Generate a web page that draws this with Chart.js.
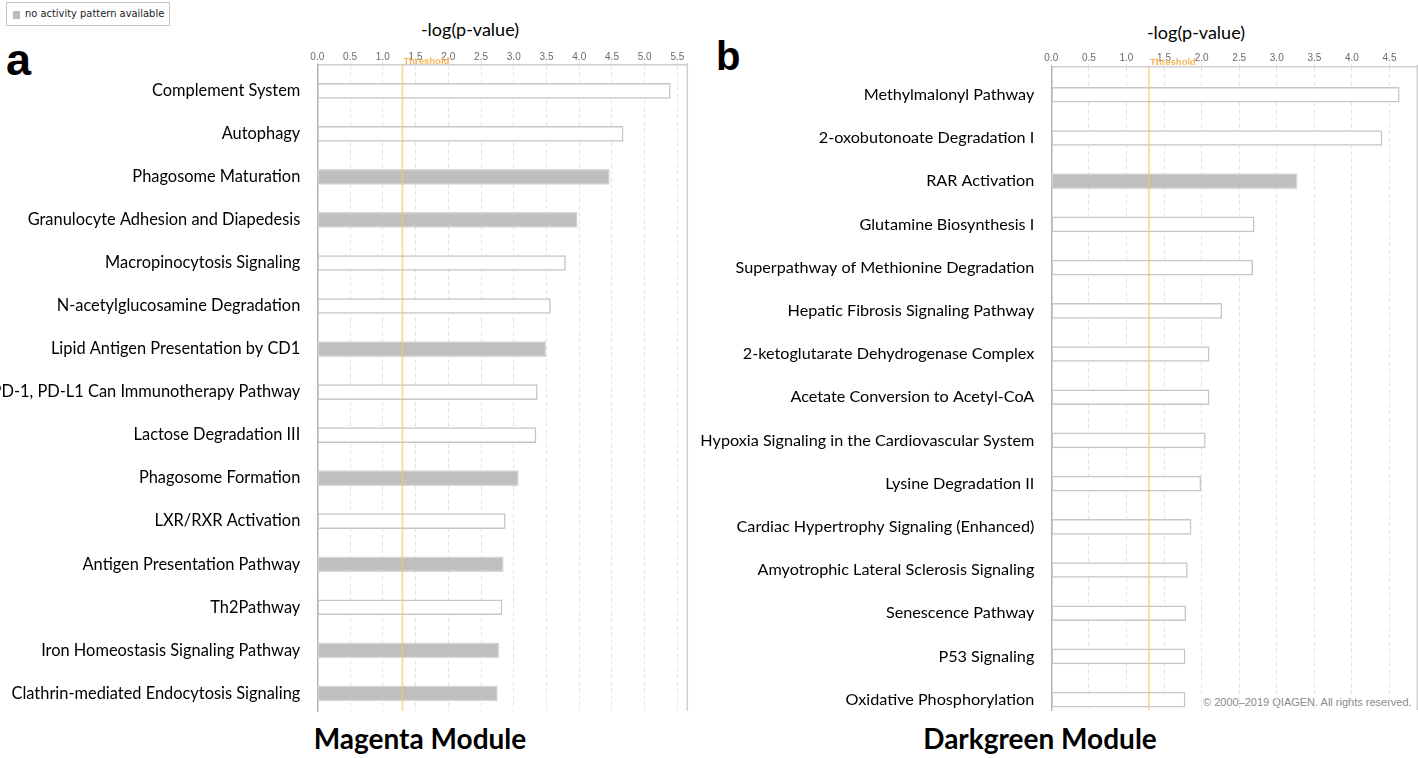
<!DOCTYPE html>
<html>
<head>
<meta charset="utf-8">
<script src="https://cdn.jsdelivr.net/npm/chart.js@4.4.1/dist/chart.umd.min.js"></script>
<style>
  html, body { margin: 0; padding: 0; background: #fff; }
  body { width: 1418px; height: 758px; position: relative; overflow: hidden; }
  canvas { position: absolute; top: 0; }
  #cA { left: 0; }
  #cB { left: 700px; }
  .txt { position: absolute; white-space: nowrap; }
  .letter { font-family: "Liberation Sans", Arial, sans-serif; font-weight: 700; color: #000; line-height: 1; }
  .axtitle { font-family: Lato, sans-serif; font-size: 18px; color: #000; line-height: 1; transform: translateX(-50%); }
  .module { font-family: Lato, sans-serif; font-weight: 700; font-size: 28px; color: #000; line-height: 1; transform: translateX(-50%); }
  #legend { position: absolute; left: 6px; top: 2px; width: 164px; height: 24px; border: 1px solid #c4c4c4; box-sizing: border-box; background: #fff; }
  #legend .sw { position: absolute; left: 6px; top: 8px; width: 7px; height: 8px; background: #bdbdbd; }
  #legend .lt { position: absolute; left: 18px; top: 4px; font-family: "DejaVu Sans Condensed", "Liberation Sans Narrow", sans-serif; font-size: 11px; color: #222; white-space: nowrap; }
  #copy { font-family: "Liberation Sans", Arial, sans-serif; font-size: 11px; color: #8a8a8a; left: 1203px; top: 696px; }
</style>
</head>
<body>
<div id="legend"><div class="sw"></div><div class="lt">no activity pattern available</div></div>
<div class="txt letter" style="left:6px; top:37px; font-size:45px;">a</div>
<div class="txt letter" style="left:716px; top:36px; font-size:40px;">b</div>
<div class="txt axtitle" style="left:470px; top:20px;">-log(p-value)</div>
<div class="txt axtitle" style="left:1196px; top:23px;">-log(p-value)</div>
<div class="txt module" style="left:420px; top:724px;">Magenta Module</div>
<div class="txt module" style="left:1040px; top:724px;">Darkgreen Module</div>
<div class="txt" id="copy">© 2000–2019 QIAGEN. All rights reserved.</div>
<canvas id="cA" width="700" height="758"></canvas>
<canvas id="cB" width="718" height="758"></canvas>
<script>
// ---------------- data ----------------
const threshold = 1.3;

const magentaPathways = [
  "Complement System",
  "Autophagy",
  "Phagosome Maturation",
  "Granulocyte Adhesion and Diapedesis",
  "Macropinocytosis Signaling",
  "N-acetylglucosamine Degradation",
  "Lipid Antigen Presentation by CD1",
  "PD-1, PD-L1 Can Immunotherapy Pathway",
  "Lactose Degradation III",
  "Phagosome Formation",
  "LXR/RXR Activation",
  "Antigen Presentation Pathway",
  "Th2Pathway",
  "Iron Homeostasis Signaling Pathway",
  "Clathrin-mediated Endocytosis Signaling"
];
const magentaValues = [5.39, 4.67, 4.46, 3.97, 3.79, 3.56, 3.49, 3.36, 3.34, 3.07, 2.87, 2.84, 2.82, 2.77, 2.75];
const magentaNoPattern = [0, 0, 1, 1, 0, 0, 1, 0, 0, 1, 0, 1, 0, 1, 1];

const darkgreenPathways = [
  "Methylmalonyl Pathway",
  "2-oxobutonoate Degradation I",
  "RAR Activation",
  "Glutamine Biosynthesis I",
  "Superpathway of Methionine Degradation",
  "Hepatic Fibrosis Signaling Pathway",
  "2-ketoglutarate Dehydrogenase Complex",
  "Acetate Conversion to Acetyl-CoA",
  "Hypoxia Signaling in the Cardiovascular System",
  "Lysine Degradation II",
  "Cardiac Hypertrophy Signaling (Enhanced)",
  "Amyotrophic Lateral Sclerosis Signaling",
  "Senescence Pathway",
  "P53 Signaling",
  "Oxidative Phosphorylation"
];
const darkgreenValues = [4.63, 4.40, 3.27, 2.70, 2.68, 2.27, 2.10, 2.10, 2.05, 1.99, 1.86, 1.81, 1.79, 1.78, 1.78];
const darkgreenNoPattern = [0, 0, 1, 0, 0, 0, 0, 0, 0, 0, 0, 0, 0, 0, 0];

const magentaTicks = ["0.0","0.5","1.0","1.5","2.0","2.5","3.0","3.5","4.0","4.5","5.0","5.5"];
const darkgreenTicks = ["0.0","0.5","1.0","1.5","2.0","2.5","3.0","3.5","4.0","4.5"];

// ---------------- helpers ----------------
const framePlugin = {
  id: 'frame',
  afterDatasetsDraw(chart, args, opts) {
    const { ctx, chartArea: a, scales: { x } } = chart;
    const tx = x.getPixelForValue(opts.threshold);
    ctx.save();
    ctx.strokeStyle = 'rgba(250, 196, 110, 0.75)';
    ctx.lineWidth = 1.5;
    ctx.beginPath(); ctx.moveTo(tx, a.top); ctx.lineTo(tx, a.bottom); ctx.stroke();
    ctx.strokeStyle = '#cfcfcf';
    ctx.lineWidth = 1.5;
    ctx.beginPath(); ctx.moveTo(a.right, a.top - 2); ctx.lineTo(a.right, a.bottom); ctx.stroke();
    ctx.fillStyle = 'rgba(246, 178, 80, 0.95)';
    ctx.font = 'bold 9.5px "Liberation Sans Narrow", "Liberation Sans", sans-serif';
    ctx.textAlign = 'left';
    ctx.textBaseline = 'alphabetic';
    ctx.fillText('Threshold', tx + 1, a.top - 1.5);
    ctx.restore();
  }
};

function makeChart(id, cats, vals, noPattern, tickLabels, cfg) {
  const points = vals.map((v, i) => ({ x: v, y: i }));
  const fills = noPattern.map(f => f ? '#bfbfbf' : '#ffffff');
  const borders = noPattern.map(f => f ? '#d6d6d6' : '#c6c6c6');
  return new Chart(document.getElementById(id), {
    type: 'bar',
    data: {
      datasets: [{
        data: points,
        backgroundColor: fills,
        borderColor: borders,
        borderWidth: 1.5,
        barThickness: 15,
        borderSkipped: false
      }]
    },
    options: {
      indexAxis: 'y',
      responsive: false,
      animation: false,
      layout: { padding: { left: 0, top: 0, right: cfg.padRight, bottom: cfg.padBottom } },
      plugins: {
        legend: { display: false },
        tooltip: { enabled: false },
        frame: { threshold: threshold }
      },
      scales: {
        x: {
          type: 'linear',
          position: 'top',
          min: 0,
          max: cfg.xMax,
          afterFit: s => { s.height = cfg.top; },
          afterBuildTicks: s => { s.ticks = tickLabels.map(t => ({ value: parseFloat(t) })); },
          ticks: {
            stepSize: 0.5,
            padding: -1,
            color: '#6a6a6a',
            font: { family: '"Liberation Sans Narrow", "Liberation Sans", sans-serif', size: 10 },
            callback: (v, i) => tickLabels[i]
          },
          grid: {
            color: '#e2e2e2',
            lineWidth: 1,
            tickLength: 3,
            drawTicks: true
          },
          border: { display: true, color: '#cfcfcf', width: 1.5, dash: [4, 3] }
        },
        y: {
          type: 'linear',
          offset: false,
          reverse: true,
          min: cfg.yMin,
          max: cfg.yMax,
          afterFit: s => { s.width = cfg.left; },
          afterBuildTicks: s => { s.ticks = cats.map((c, i) => ({ value: i })); },
          ticks: {
            padding: 17,
            color: '#000',
            font: { family: 'Lato, sans-serif', size: cfg.labelSize },
            callback: v => cats[v]
          },
          grid: { display: false, drawTicks: false, offset: false },
          border: { display: true, color: '#b4b4b4', width: 1.5 }
        }
      }
    },
    plugins: [framePlugin]
  });
}

makeChart('cA', magentaPathways, magentaValues, magentaNoPattern, magentaTicks,
  { top: 65, left: 317.3, padRight: 700 - 687.3, padBottom: 758 - 711, xMax: 5.65, yMin: -0.6, yMax: 14.41, labelSize: 16.4 });
makeChart('cB', darkgreenPathways, darkgreenValues, darkgreenNoPattern, darkgreenTicks,
  { top: 66.7, left: 351.3, padRight: 718 - 717.3, padBottom: 758 - 710, xMax: 4.87, yMin: -0.65, yMax: 14.24, labelSize: 16.2 });
</script>
</body>
</html>
